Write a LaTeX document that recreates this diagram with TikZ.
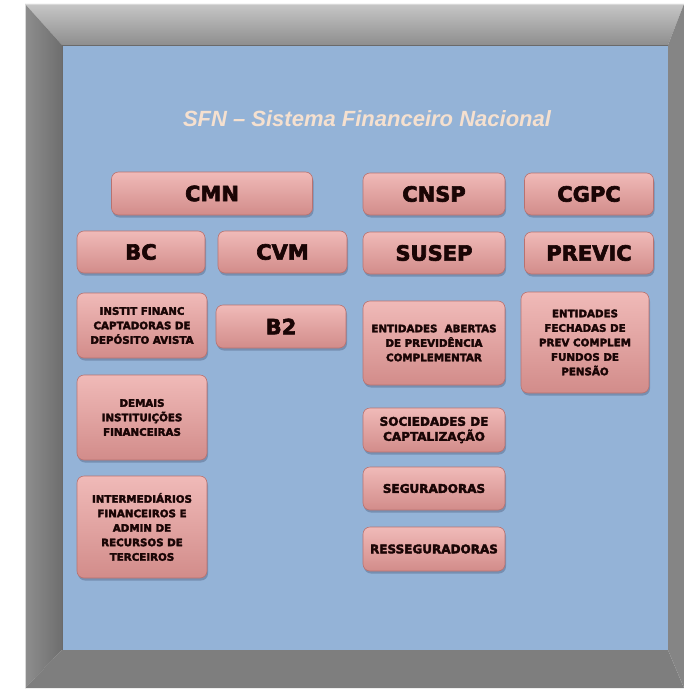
\documentclass[tikz,border=0pt]{standalone}
\usepackage{fontspec}
\setmainfont{DejaVu Sans}
\newfontfamily\boxfont{DejaVu Sans}[BoldFeatures={FakeBold=3}]
\newfontfamily\titlefont{Liberation Sans}
\usetikzlibrary{shadows}
\definecolor{panelblue}{HTML}{94B3D7}
\definecolor{frameTopA}{HTML}{C6C6C6}
\definecolor{frameTopB}{HTML}{8E8E8E}
\definecolor{frameLeftA}{HTML}{8E8E8E}
\definecolor{frameLeftB}{HTML}{6E6E6E}
\definecolor{frameBottom}{HTML}{7E7E7E}
\definecolor{frameRight}{HTML}{858585}
\definecolor{frameEdge}{HTML}{6A6A6A}
\definecolor{frameHi}{HTML}{D8D8D8}
\definecolor{pinkTop}{HTML}{F0BAB8}
\definecolor{pinkMid}{HTML}{E19D9B}
\definecolor{pinkBot}{HTML}{D28C8A}
\definecolor{pinkLine}{HTML}{B87270}
\definecolor{shadowc}{HTML}{4A5A78}
\definecolor{textc}{HTML}{1A0505}
\definecolor{titlec}{HTML}{F5E0CF}
\tikzset{
  pinkbox/.style={draw=pinkLine, line width=0.6pt, rounded corners=7pt,
    top color=pinkTop, middle color=pinkMid, bottom color=pinkBot,
    drop shadow={shadow xshift=1pt, shadow yshift=-2.5pt, opacity=0.4, fill=shadowc},
    inner sep=0pt, align=center, text=textc},
  bigtxt/.style={font=\boxfont\bfseries\fontsize{21}{24}\selectfont},
  midtxt/.style={font=\boxfont\bfseries\fontsize{12}{15}\selectfont},
  smalltxt/.style={font=\boxfont\bfseries\fontsize{10.3}{14.5}\selectfont},
}
\begin{document}
\begin{tikzpicture}[x=1pt,y=-1pt]
\useasboundingbox (0,0) rectangle (684,690);
\fill[white] (0,0) rectangle (684,690);
% frame
\shade[top color=frameTopA, bottom color=frameTopB] (25,4) -- (684,4) -- (668,45) -- (62,45) -- cycle;
\shade[left color=frameLeftA, right color=frameLeftB] (25,4) -- (62,45) -- (62,650) -- (25,688) -- cycle;
\fill[frameBottom] (25,688) -- (62,650) -- (668,650) -- (684,688) -- cycle;
\fill[frameRight] (684,4) -- (668,45) -- (668,650) -- (684,688) -- cycle;
\draw[frameHi, line width=1pt] (25.5,688) -- (25.5,4.5) -- (684,4.5);
\fill[panelblue] (62,45) rectangle (668,650);
\draw[frameEdge, line width=0.8pt] (62,650) -- (62,45) -- (668,45);
% title
\node[anchor=base, text=titlec, font=\titlefont\bfseries\itshape\fontsize{22}{26}\selectfont] (title) at (367,126) {SFN – Sistema Financeiro Nacional};
% row 1
\node[pinkbox, bigtxt, minimum width=201pt, minimum height=43pt] (cmn) at (212,193.5) {CMN};
\node[pinkbox, bigtxt, minimum width=142pt, minimum height=42pt] (cnsp) at (434,194) {CNSP};
\node[pinkbox, bigtxt, minimum width=129pt, minimum height=42pt] (cgpc) at (589,194) {CGPC};
% row 2
\node[pinkbox, bigtxt, minimum width=128pt, minimum height=42pt] (bc) at (141,252) {BC};
\node[pinkbox, bigtxt, minimum width=129pt, minimum height=42pt] (cvm) at (282.5,252) {CVM};
\node[pinkbox, bigtxt, minimum width=142pt, minimum height=42pt] (susep) at (434,253) {SUSEP};
\node[pinkbox, bigtxt, minimum width=129pt, minimum height=42pt] (previc) at (589,253) {PREVIC};
% left column
\node[pinkbox, smalltxt, minimum width=130pt, minimum height=65pt] (instit) at (142,325.5) {INSTIT FINANC\\CAPTADORAS DE\\DEPÓSITO AVISTA};
\node[pinkbox, bigtxt, minimum width=130pt, minimum height=43pt] (b2) at (281,326.5) {B2};
\node[pinkbox, smalltxt, minimum width=130pt, minimum height=85pt] (demais) at (142,417.5) {DEMAIS\\INSTITUIÇÕES\\FINANCEIRAS};
\node[pinkbox, smalltxt, minimum width=130pt, minimum height=102pt] (interm) at (142,527) {INTERMEDIÁRIOS\\FINANCEIROS E\\ADMIN DE\\RECURSOS DE\\TERCEIROS};
% right columns
\node[pinkbox, smalltxt, minimum width=142pt, minimum height=84pt] (abertas) at (434,343) {ENTIDADES\ \ ABERTAS\\DE PREVIDÊNCIA\\COMPLEMENTAR};
\node[pinkbox, smalltxt, minimum width=128pt, minimum height=101pt] (fechadas) at (585,342.5) {ENTIDADES\\FECHADAS DE\\PREV COMPLEM\\FUNDOS DE\\PENSÃO};
\node[pinkbox, midtxt, minimum width=142pt, minimum height=44pt] (socied) at (434,430) {SOCIEDADES DE\\CAPTALIZAÇÃO};
\node[pinkbox, midtxt, minimum width=142pt, minimum height=43pt] (segur) at (434,488.5) {SEGURADORAS};
\node[pinkbox, midtxt, minimum width=142pt, minimum height=44pt] (resseg) at (434,549) {RESSEGURADORAS};
\end{tikzpicture}
\end{document}
